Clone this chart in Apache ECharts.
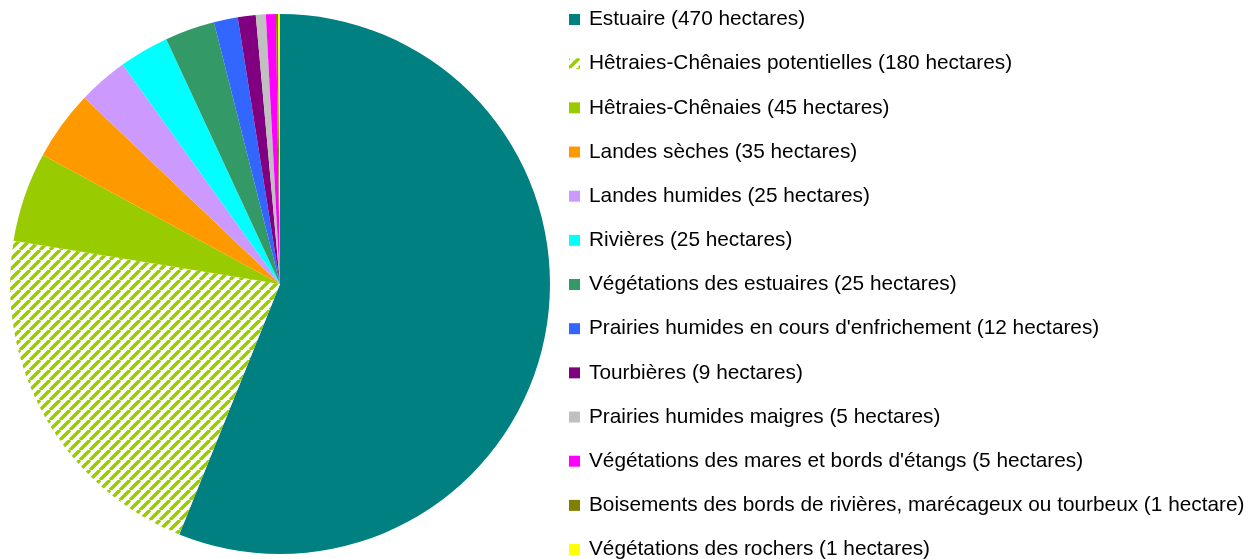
<!DOCTYPE html>
<html><head><meta charset="utf-8">
<script src="https://cdn.jsdelivr.net/npm/echarts@6/dist/echarts.min.js"></script>
<style>html,body{margin:0;padding:0;background:#fff}#c{width:1250px;height:559px}</style>
</head><body><div id="c"></div>
<script>
const categories = ["Estuaire (470 hectares)","Hêtraies-Chênaies potentielles (180 hectares)","Hêtraies-Chênaies (45 hectares)","Landes sèches (35 hectares)","Landes humides (25 hectares)","Rivières (25 hectares)","Végétations des estuaires (25 hectares)","Prairies humides en cours d'enfrichement (12 hectares)","Tourbières (9 hectares)","Prairies humides maigres (5 hectares)","Végétations des mares et bords d'étangs (5 hectares)","Boisements des bords de rivières, marécageux ou tourbeux (1 hectare)","Végétations des rochers (1 hectares)"];
const values = [470,180,45,35,25,25,25,12,9,5,5,1,1];
const colors = ["#008080","PATTERN","#99CC00","#FF9900","#CC99FF","#00FFFF","#339966","#3366FF","#800080","#C0C0C0","#FF00FF","#808000","#FFFF00"];

function makePattern(){
  const s=10, cv=document.createElement('canvas'); cv.width=s; cv.height=s;
  const g=cv.getContext('2d'); g.fillStyle='#fff'; g.fillRect(0,0,s,s);
  g.strokeStyle='#99CC00'; g.lineWidth=3.4;
  g.beginPath();
  for(let k=-1;k<=1;k++){ g.moveTo(k*s, s); g.lineTo(k*s+s, 0); }
  g.stroke();
  return {image:cv, repeat:'repeat'};
}
const pat = makePattern();
const data = categories.map((n,i)=>({name:n,value:values[i],itemStyle:{color: colors[i]==="PATTERN"?pat:colors[i]}}));
const chart = echarts.init(document.getElementById('c'),null,{renderer:'canvas'});
chart.setOption({
  animation:false,
  legend:{orient:'vertical',left:569,top:9,height:600,padding:0,itemWidth:11,itemHeight:11,itemGap:23.17,icon:'rect',
    textStyle:{fontFamily:'Liberation Sans, Arial, sans-serif',fontSize:20.8,color:'#000',lineHeight:21,padding:[0,0,0,4]},
    selectedMode:false},
  series:[{type:'pie',center:[280,284],radius:270,startAngle:90,clockwise:true,label:{show:false},labelLine:{show:false},
    emphasis:{disabled:true},itemStyle:{borderWidth:0},data:data}]
});
</script></body></html>
